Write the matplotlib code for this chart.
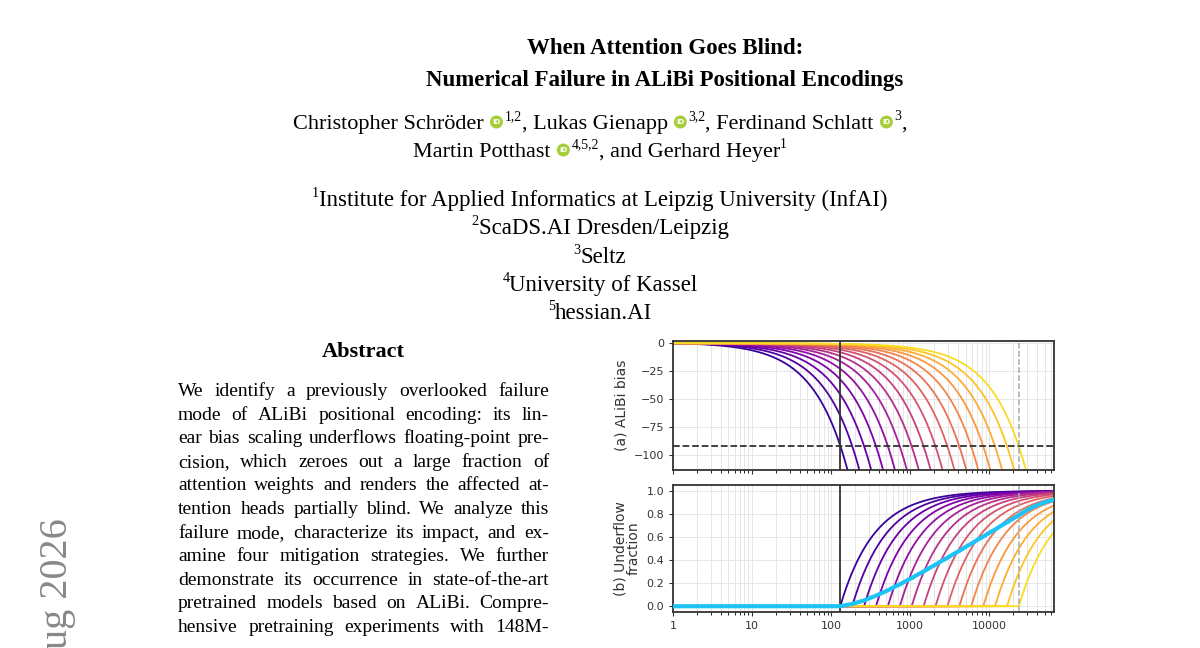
import matplotlib

matplotlib.use("Agg")
import matplotlib.pyplot as plt  # noqa: E402
import matplotlib.patches as mpatches  # noqa: E402
import numpy as np  # noqa: E402

# ALiBi head slopes (16 heads, 2^(-i/2)) and the underflow threshold.
slopes = [0.7071, 0.5, 0.3536, 0.25, 0.1768, 0.125, 0.0884, 0.0625,
          0.0442, 0.03125, 0.0221, 0.015625, 0.0110, 0.0078125, 0.0055, 0.00390625]
underflow_bias = -92.0
ctx_train = 128
ctx_marker = 23552
x_ticks = [1, 10, 100, 1000, 10000]
x_ticklabels = ["1", "10", "100", "1000", "10000"]

W, H = 1200, 648
fig = plt.figure(figsize=(12, 6.48), dpi=100)
fig.patch.set_facecolor("white")
SERIF = ["Liberation Serif", "DejaVu Serif"]
renderer = fig.canvas.get_renderer()


def fx(x):
    return x / W


def fy(y):
    return 1 - y / H


def measure(s, size, weight="normal"):
    t = fig.text(0, 0, s, fontsize=size, family=SERIF, weight=weight)
    w = t.get_window_extent(renderer).width
    t.remove()
    return w


def rich_line(segments, cx, y, size):
    """segments: list of (kind, text). kind in 'n', 'sup', 'id'."""
    widths = []
    for kind, s in segments:
        if kind == "n":
            widths.append(measure(s, size))
        elif kind == "sup":
            widths.append(measure(s, size * 0.62))
        else:
            widths.append(15)
    x = cx - sum(widths) / 2
    for (kind, s), w in zip(segments, widths):
        if kind == "n":
            fig.text(fx(x), fy(y), s, fontsize=size, family=SERIF, va="baseline")
        elif kind == "sup":
            fig.text(fx(x), fy(y - 9), s, fontsize=size * 0.62, family=SERIF, va="baseline")
        else:
            cxi, cyi = x + 7, y - 7
            fig.patches.append(mpatches.Ellipse((fx(cxi), fy(cyi)), 13 / W, 13 / H,
                                                transform=fig.transFigure,
                                                facecolor="#a6ce39", edgecolor="none"))
            fig.text(fx(cxi), fy(cyi), "iD", fontsize=5, color="white",
                     ha="center", va="center", weight="bold")
        x += w


# Title
fig.text(fx(665), fy(54), "When Attention Goes Blind:", fontsize=16.5, family=SERIF,
         weight="bold", ha="center", va="baseline")
fig.text(fx(665), fy(86), "Numerical Failure in ALiBi Positional Encodings", fontsize=16.5,
         family=SERIF, weight="bold", ha="center", va="baseline")

# Authors
rich_line([("n", "Christopher Schröder "), ("id", ""), ("sup", "1,2"),
           ("n", ", Lukas Gienapp "), ("id", ""), ("sup", "3,2"),
           ("n", ", Ferdinand Schlatt "), ("id", ""), ("sup", "3"), ("n", ",")],
          600, 129, 16)
rich_line([("n", "Martin Potthast "), ("id", ""), ("sup", "4,5,2"),
           ("n", ", and Gerhard Heyer"), ("sup", "1")], 600, 157, 16)

affils = [("1", "Institute for Applied Informatics at Leipzig University (InfAI)"),
          ("2", "ScaDS.AI Dresden/Leipzig"), ("3", "Seltz"),
          ("4", "University of Kassel"), ("5", "hessian.AI")]
for i, (num, name) in enumerate(affils):
    rich_line([("sup", num), ("n", name)], 600, 206 + i * 28.3, 16.5)

# Abstract
fig.text(fx(363), fy(357), "Abstract", fontsize=16, family=SERIF, weight="bold",
         ha="center", va="baseline")
abstract = [
    "We identify a previously overlooked failure",
    "mode of ALiBi positional encoding: its lin-",
    "ear bias scaling underflows floating-point pre-",
    "cision, which zeroes out a large fraction of",
    "attention weights and renders the affected at-",
    "tention heads partially blind. We analyze this",
    "failure mode, characterize its impact, and ex-",
    "amine four mitigation strategies. We further",
    "demonstrate its occurrence in state-of-the-art",
    "pretrained models based on ALiBi. Compre-",
    "hensive pretraining experiments with 148M-",
]
left, right = 178, 549
for i, line in enumerate(abstract):
    y = 396 + i * 23.6
    words = line.split(" ")
    ws = [measure(w, 14) for w in words]
    gap = (right - left - sum(ws)) / (len(words) - 1)
    x = left
    for w, wd in zip(words, ws):
        fig.text(fx(x), fy(y), w, fontsize=14, family=SERIF, va="baseline")
        x += wd + gap

# arXiv side stamp
fig.text(fx(57), fy(518), "ug 2026", fontsize=29, family=SERIF, color="#888888",
         rotation=90, ha="center", va="top")

# ---- Figure ----
x = np.geomspace(1, 65536, 800)
colors = plt.cm.plasma(np.linspace(0.08, 0.93, len(slopes)))
ax1 = fig.add_axes([fx(673), fy(470), (1054 - 673) / W, (470 - 341) / H])
ax2 = fig.add_axes([fx(673), fy(612), (1054 - 673) / W, (612 - 485) / H])

fracs = []
for m, c in zip(slopes, colors):
    ax1.plot(x, -m * (x - 1), color=c, lw=1.3)
    x0 = -underflow_bias / m
    f = np.clip(1 - x0 / x, 0, None)
    fracs.append(f)
    ax2.plot(x, f, color=c, lw=1.3)
ax2.plot(x, np.mean(fracs, axis=0), color="#1ec3f5", lw=3, zorder=5)

ax1.axhline(underflow_bias, color="#333333", ls="--", lw=1.3)
for ax in (ax1, ax2):
    ax.set_xscale("log")
    ax.set_xlim(1, 65536)
    ax.axvline(ctx_train, color="#333333", lw=1.3)
    ax.axvline(ctx_marker, color="#aaaaaa", ls="--", lw=1.1)
    ax.grid(True, which="both", color="#e6e6e6", lw=0.7)
    ax.set_axisbelow(True)
    ax.set_xticks(x_ticks)
    for s in ax.spines.values():
        s.set_color("#333333")
        s.set_linewidth(1.3)
    ax.tick_params(labelsize=8, colors="#333333", length=3)
    ax.tick_params(which="minor", length=2)
ax1.set_ylim(-113, 2)
ax1.set_yticks([0, -25, -50, -75, -100])
ax1.set_xticklabels([])
ax1.set_ylabel("(a) ALiBi bias", fontsize=10, color="#333333")
ax2.set_ylim(-0.05, 1.05)
ax2.set_yticks([0, 0.2, 0.4, 0.6, 0.8, 1.0])
ax2.set_xticklabels(x_ticklabels)
ax2.set_ylabel("(b) Underflow\nfraction", fontsize=10, color="#333333", linespacing=0.9)

fig.savefig("out.png", dpi=100)
